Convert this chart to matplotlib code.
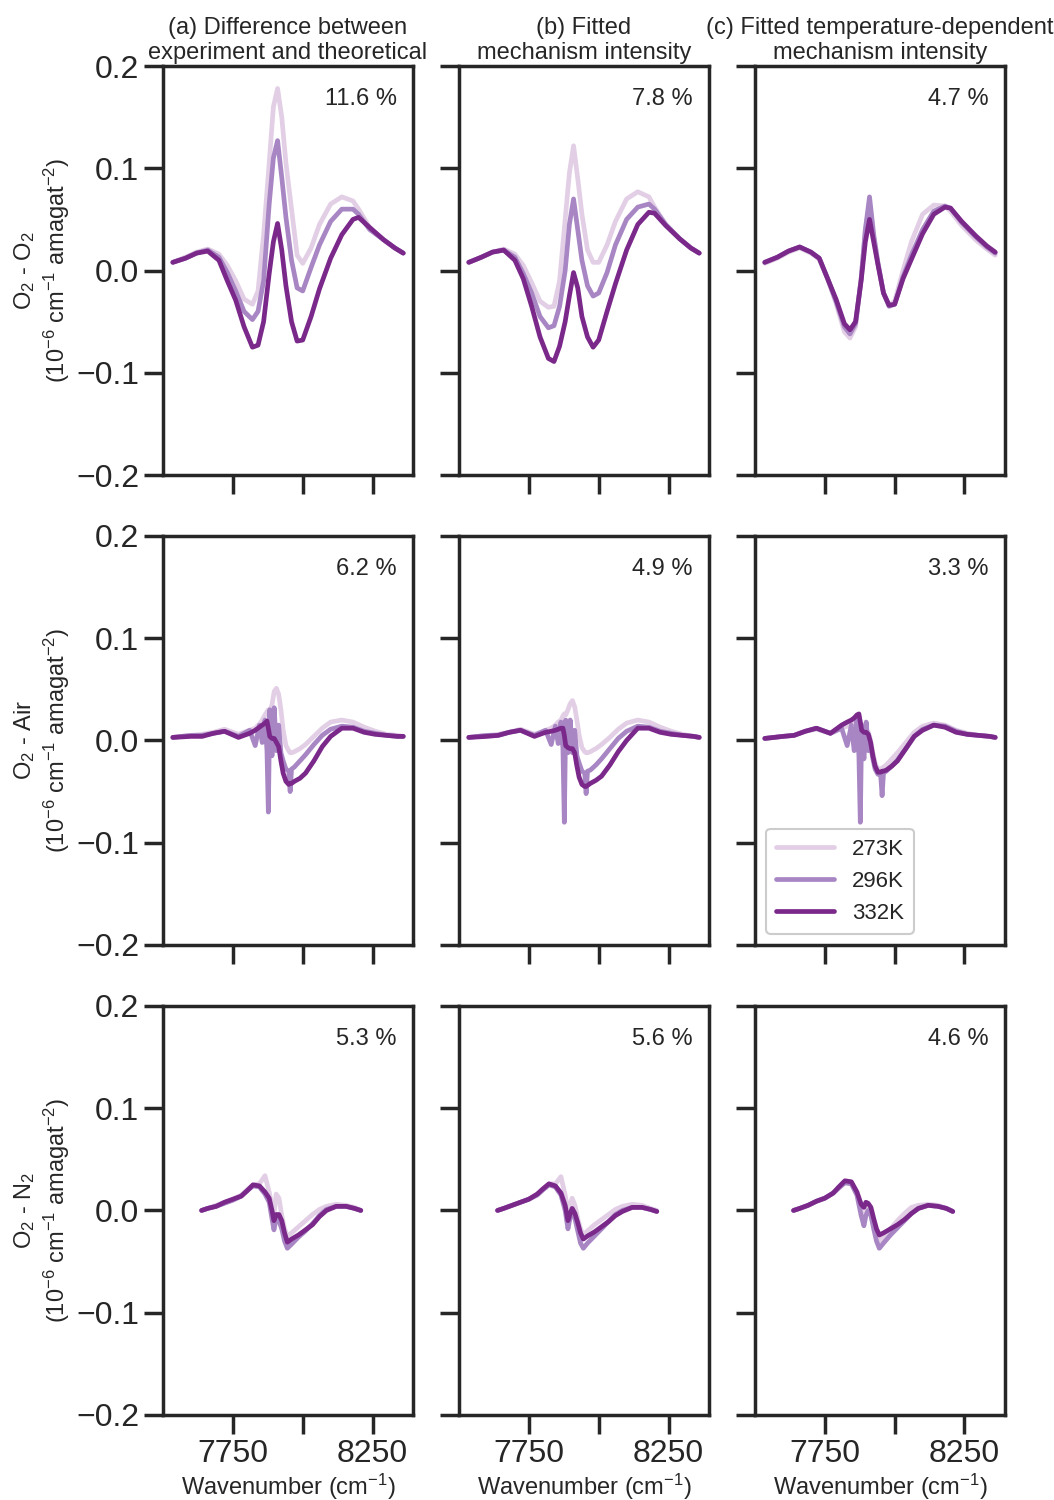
import numpy as np
import matplotlib
matplotlib.use("Agg")
import matplotlib.pyplot as plt

plt.rcParams["font.family"] = ["Liberation Sans", "DejaVu Sans"]
plt.rcParams["mathtext.default"] = "regular"

# wavenumber grids (cm^-1) for each row
W1 = [7535, 7580, 7620, 7660, 7700, 7730, 7760, 7790, 7820, 7840, 7860, 7880, 7895, 7910, 7925,
      7940, 7960, 7980, 8000, 8030, 8060, 8100, 8140, 8180, 8200, 8240, 8290, 8330, 8360]
W2 = [7535, 7600, 7640, 7680, 7720, 7770, 7810, 7830, 7845, 7855, 7865, 7872, 7877, 7882, 7890,
      7898, 7906, 7914, 7922, 7930, 7940, 7950, 7955, 7960, 7970, 7990, 8010, 8040, 8070, 8100,
      8140, 8180, 8220, 8260, 8300, 8340, 8360]
W3 = [7638, 7660, 7690, 7720, 7750, 7780, 7800, 7822, 7845, 7865, 7880, 7890, 7897, 7905, 7915,
      7925, 7935, 7945, 7960, 7985, 8010, 8035, 8060, 8085, 8120, 8155, 8185, 8208]

# O2 - O2
o2o2_diff_273 = [0.008, 0.013, 0.018, 0.021, 0.016, 0.005, -0.010, -0.028, -0.033, -0.020, 0.035, 0.105, 0.160, 0.178, 0.150,
                 0.105, 0.060, 0.015, 0.007, 0.022, 0.045, 0.065, 0.072, 0.068, 0.060, 0.042, 0.030, 0.022, 0.017]
o2o2_diff_296 = [0.008, 0.012, 0.017, 0.020, 0.013, -0.002, -0.020, -0.040, -0.048, -0.040, -0.010, 0.065, 0.110, 0.127, 0.091,
                 0.052, 0.010, -0.017, -0.020, 0.003, 0.025, 0.048, 0.060, 0.060, 0.055, 0.040, 0.030, 0.022, 0.017]
o2o2_diff_332 = [0.008, 0.012, 0.017, 0.019, 0.010, -0.010, -0.029, -0.055, -0.075, -0.073, -0.050, -0.003, 0.028, 0.046, 0.020,
                 -0.015, -0.050, -0.069, -0.068, -0.045, -0.018, 0.012, 0.035, 0.050, 0.052, 0.042, 0.030, 0.022, 0.017]
o2o2_fit_273 = [0.008, 0.013, 0.018, 0.021, 0.016, 0.005, -0.012, -0.030, -0.036, -0.035, -0.010, 0.050, 0.095, 0.122, 0.090,
                0.055, 0.020, 0.008, 0.008, 0.025, 0.048, 0.070, 0.077, 0.072, 0.062, 0.045, 0.031, 0.022, 0.017]
o2o2_fit_296 = [0.008, 0.013, 0.018, 0.020, 0.013, -0.003, -0.022, -0.045, -0.056, -0.054, -0.035, 0.000, 0.045, 0.070, 0.040,
                0.010, -0.015, -0.025, -0.022, -0.002, 0.025, 0.050, 0.062, 0.065, 0.060, 0.045, 0.031, 0.022, 0.017]
o2o2_fit_332 = [0.008, 0.013, 0.018, 0.020, 0.010, -0.008, -0.035, -0.065, -0.086, -0.089, -0.074, -0.050, -0.025, -0.002, -0.017,
                -0.045, -0.065, -0.075, -0.068, -0.040, -0.013, 0.020, 0.045, 0.057, 0.056, 0.044, 0.031, 0.022, 0.017]
o2o2_tfit_273 = [0.007, 0.012, 0.018, 0.022, 0.017, 0.011, -0.008, -0.032, -0.060, -0.066, -0.055, -0.008, 0.040, 0.065, 0.032,
                 0.006, -0.022, -0.034, -0.030, 0.000, 0.028, 0.055, 0.064, 0.063, 0.058, 0.044, 0.030, 0.021, 0.015]
o2o2_tfit_296 = [0.008, 0.013, 0.019, 0.023, 0.018, 0.012, -0.008, -0.030, -0.055, -0.062, -0.052, -0.008, 0.040, 0.072, 0.035,
                 0.008, -0.022, -0.035, -0.033, -0.006, 0.015, 0.040, 0.058, 0.063, 0.061, 0.047, 0.033, 0.023, 0.017]
o2o2_tfit_332 = [0.008, 0.013, 0.019, 0.023, 0.018, 0.012, -0.008, -0.028, -0.052, -0.058, -0.050, -0.010, 0.028, 0.050, 0.028,
                 0.006, -0.022, -0.034, -0.033, -0.008, 0.011, 0.036, 0.055, 0.062, 0.061, 0.048, 0.034, 0.024, 0.018]

# O2 - Air
o2air_diff_273 = [0.003, 0.005, 0.006, 0.008, 0.011, 0.006, 0.010, 0.012, 0.016, 0.020, 0.025, 0.028, 0.030, 0.028, 0.035,
                  0.048, 0.051, 0.045, 0.030, 0.010, -0.005, -0.010, -0.012, -0.012, -0.011, -0.008, -0.004, 0.004, 0.012, 0.018,
                  0.020, 0.018, 0.013, 0.009, 0.006, 0.005, 0.004]
o2air_diff_296 = [0.003, 0.005, 0.005, 0.007, 0.009, 0.004, 0.010, -0.005, 0.015, -0.002, 0.020, -0.010, -0.070, 0.030, -0.015,
                  0.032, -0.010, 0.015, -0.012, -0.020, -0.028, -0.030, -0.050, -0.028, -0.026, -0.020, -0.014, -0.004, 0.005, 0.011,
                  0.014, 0.013, 0.009, 0.007, 0.005, 0.004, 0.004]
o2air_diff_332 = [0.003, 0.004, 0.004, 0.007, 0.009, 0.003, 0.007, 0.010, 0.013, 0.015, 0.017, 0.019, 0.012, 0.004, 0.002,
                  0.002, -0.002, -0.006, -0.020, -0.032, -0.040, -0.043, -0.042, -0.042, -0.040, -0.037, -0.032, -0.020, -0.006, 0.004,
                  0.012, 0.012, 0.008, 0.006, 0.005, 0.004, 0.004]
o2air_fit_273 = [0.003, 0.005, 0.006, 0.008, 0.011, 0.006, 0.010, 0.012, 0.015, 0.018, 0.020, 0.024, 0.026, 0.025, 0.030,
                 0.036, 0.039, 0.033, 0.020, 0.005, -0.007, -0.011, -0.012, -0.012, -0.011, -0.008, -0.004, 0.003, 0.011, 0.017,
                 0.020, 0.018, 0.013, 0.009, 0.006, 0.004, 0.003]
o2air_fit_296 = [0.003, 0.005, 0.005, 0.008, 0.010, 0.005, 0.010, -0.004, 0.014, -0.003, 0.018, -0.008, -0.080, 0.020, -0.012,
                 0.020, -0.012, 0.010, -0.015, -0.022, -0.030, -0.032, -0.052, -0.030, -0.029, -0.024, -0.018, -0.008, 0.002, 0.009,
                 0.014, 0.013, 0.009, 0.007, 0.005, 0.004, 0.003]
o2air_fit_332 = [0.003, 0.004, 0.005, 0.008, 0.010, 0.004, 0.008, 0.009, 0.010, 0.011, 0.012, 0.012, 0.005, -0.005, -0.007,
                 -0.008, -0.008, -0.012, -0.025, -0.036, -0.043, -0.045, -0.045, -0.044, -0.042, -0.039, -0.035, -0.024, -0.011, 0.000,
                 0.012, 0.012, 0.008, 0.006, 0.005, 0.004, 0.003]
o2air_tfit_273 = [0.002, 0.004, 0.005, 0.009, 0.011, 0.007, 0.012, 0.014, 0.016, 0.018, 0.020, 0.022, 0.018, 0.012, 0.012,
                  0.010, 0.008, 0.000, -0.012, -0.022, -0.028, -0.028, -0.027, -0.026, -0.024, -0.018, -0.012, -0.002, 0.008, 0.014,
                  0.017, 0.015, 0.010, 0.007, 0.005, 0.004, 0.003]
o2air_tfit_296 = [0.002, 0.004, 0.005, 0.009, 0.012, 0.007, 0.012, -0.005, 0.015, -0.010, 0.020, -0.015, -0.080, 0.015, -0.018,
                  0.018, -0.010, -0.005, -0.018, -0.028, -0.033, -0.034, -0.054, -0.032, -0.030, -0.025, -0.019, -0.008, 0.004, 0.011,
                  0.015, 0.014, 0.009, 0.006, 0.005, 0.004, 0.003]
o2air_tfit_332 = [0.002, 0.004, 0.005, 0.009, 0.012, 0.007, 0.015, 0.018, 0.020, 0.022, 0.025, 0.026, 0.018, 0.010, 0.008,
                  0.008, 0.006, -0.002, -0.015, -0.025, -0.031, -0.031, -0.030, -0.030, -0.029, -0.025, -0.020, -0.008, 0.004, 0.010,
                  0.015, 0.013, 0.008, 0.006, 0.005, 0.004, 0.003]

# O2 - N2
o2n2_diff_273 = [0.000, 0.002, 0.005, 0.008, 0.011, 0.015, 0.020, 0.025, 0.026, 0.034, 0.018, 0.005, -0.004, 0.016, 0.012,
                 -0.005, -0.018, -0.025, -0.022, -0.016, -0.010, -0.004, 0.001, 0.004, 0.006, 0.005, 0.003, 0.000]
o2n2_diff_296 = [0.000, 0.002, 0.004, 0.007, 0.010, 0.014, 0.019, 0.024, 0.023, 0.016, 0.008, -0.008, -0.019, -0.008, -0.010,
                 -0.018, -0.030, -0.037, -0.033, -0.026, -0.020, -0.013, -0.005, 0.001, 0.004, 0.004, 0.002, 0.000]
o2n2_diff_332 = [0.000, 0.002, 0.004, 0.008, 0.011, 0.014, 0.019, 0.025, 0.024, 0.018, 0.012, 0.000, -0.010, -0.004, -0.004,
                 -0.010, -0.022, -0.031, -0.028, -0.024, -0.019, -0.014, -0.006, 0.000, 0.004, 0.004, 0.002, 0.000]
o2n2_fit_273 = [0.000, 0.002, 0.005, 0.008, 0.011, 0.016, 0.021, 0.026, 0.026, 0.033, 0.015, 0.000, 0.005, 0.012, 0.005,
                -0.008, -0.018, -0.024, -0.020, -0.014, -0.009, -0.004, 0.001, 0.004, 0.006, 0.005, 0.002, 0.000]
o2n2_fit_296 = [0.000, 0.002, 0.005, 0.008, 0.011, 0.015, 0.020, 0.025, 0.023, 0.015, 0.000, -0.018, -0.008, -0.002, -0.008,
                -0.020, -0.032, -0.037, -0.032, -0.025, -0.018, -0.011, -0.004, 0.000, 0.003, 0.003, 0.001, -0.001]
o2n2_fit_332 = [0.000, 0.002, 0.005, 0.008, 0.011, 0.016, 0.021, 0.026, 0.024, 0.017, 0.005, -0.010, -0.004, 0.002, -0.003,
                -0.012, -0.022, -0.028, -0.025, -0.021, -0.016, -0.011, -0.005, -0.001, 0.003, 0.003, 0.001, -0.001]
o2n2_tfit_273 = [0.000, 0.002, 0.005, 0.009, 0.012, 0.017, 0.022, 0.028, 0.027, 0.016, 0.000, -0.010, -0.002, 0.002, -0.003,
                 -0.014, -0.024, -0.030, -0.026, -0.018, -0.010, -0.003, 0.003, 0.005, 0.006, 0.005, 0.002, -0.001]
o2n2_tfit_296 = [0.000, 0.002, 0.005, 0.009, 0.012, 0.017, 0.022, 0.027, 0.026, 0.015, -0.005, -0.015, -0.005, 0.000, -0.005,
                 -0.018, -0.030, -0.037, -0.032, -0.024, -0.017, -0.010, -0.003, 0.002, 0.005, 0.004, 0.002, -0.001]
o2n2_tfit_332 = [0.000, 0.002, 0.005, 0.009, 0.012, 0.017, 0.023, 0.029, 0.028, 0.018, 0.006, 0.003, 0.008, 0.007, 0.003,
                 -0.008, -0.018, -0.024, -0.022, -0.018, -0.014, -0.009, -0.003, 0.002, 0.005, 0.004, 0.002, -0.001]

percent_labels = [["11.6 %", "7.8 %", "4.7 %"],
                  ["6.2 %", "4.9 %", "3.3 %"],
                  ["5.3 %", "5.6 %", "4.6 %"]]
col_titles = ["(a) Difference between\nexperiment and theoretical",
              "(b) Fitted\nmechanism intensity",
              "(c) Fitted temperature-dependent\nmechanism intensity"]
row_labels = ["O$_2$ - O$_2$", "O$_2$ - Air", "O$_2$ - N$_2$"]
temps = ["273K", "296K", "332K"]
colors = ["#e2cfe6", "#a886c4", "#7a288a"]

grids = [W1, W2, W3]
series = [
    [[o2o2_diff_273, o2o2_diff_296, o2o2_diff_332],
     [o2o2_fit_273, o2o2_fit_296, o2o2_fit_332],
     [o2o2_tfit_273, o2o2_tfit_296, o2o2_tfit_332]],
    [[o2air_diff_273, o2air_diff_296, o2air_diff_332],
     [o2air_fit_273, o2air_fit_296, o2air_fit_332],
     [o2air_tfit_273, o2air_tfit_296, o2air_tfit_332]],
    [[o2n2_diff_273, o2n2_diff_296, o2n2_diff_332],
     [o2n2_fit_273, o2n2_fit_296, o2n2_fit_332],
     [o2n2_tfit_273, o2n2_tfit_296, o2n2_tfit_332]],
]

edge = "#262626"
fig, axes = plt.subplots(3, 3, figsize=(10.54, 15), dpi=100, sharex=True, sharey=True)
fig.subplots_adjust(left=0.1547, right=0.9535, top=0.956, bottom=0.0567, wspace=0.184, hspace=0.149)

for r in range(3):
    for c in range(3):
        ax = axes[r, c]
        x = np.array(grids[r])
        for k in range(3):
            ax.plot(x, np.array(series[r][c][k]), color=colors[k], lw=3.4, label=temps[k],
                    solid_joinstyle="round", solid_capstyle="round")
        ax.text(0.935, 0.945, percent_labels[r][c], transform=ax.transAxes,
                ha="right", va="top", fontsize=17, color=edge)
        for s in ax.spines.values():
            s.set_linewidth(2.5)
            s.set_color(edge)
        ax.tick_params(direction="out", length=14, width=2.5, color=edge,
                       labelsize=23, labelcolor=edge, pad=3)
        ax.set_xlim(7500, 8395)
        ax.set_ylim(-0.2, 0.2)
        ax.set_yticks([-0.2, -0.1, 0.0, 0.1, 0.2])
        ax.set_xticks([7750, 8000, 8250], labels=["7750", "", "8250"])
        if r == 0:
            ax.set_title(col_titles[c], fontsize=17, color=edge, pad=5)
        if r == 2:
            ax.set_xlabel("Wavenumber (cm$^{-1}$)", fontsize=17, color=edge, labelpad=2)
        if c == 0:
            ax.set_ylabel(row_labels[r] + "\n($10^{-6}$ cm$^{-1}$ amagat$^{-2}$)", fontsize=17,
                          color=edge, labelpad=3)

leg = axes[1, 2].legend(loc="lower left", fontsize=16, handlelength=2.6, frameon=True,
                        fancybox=True, framealpha=1.0, borderpad=0.45)
leg.get_frame().set_edgecolor("#cccccc")
leg.get_frame().set_linewidth(1.5)
for t in leg.get_texts():
    t.set_color(edge)

fig.savefig("out.png", dpi=100)
